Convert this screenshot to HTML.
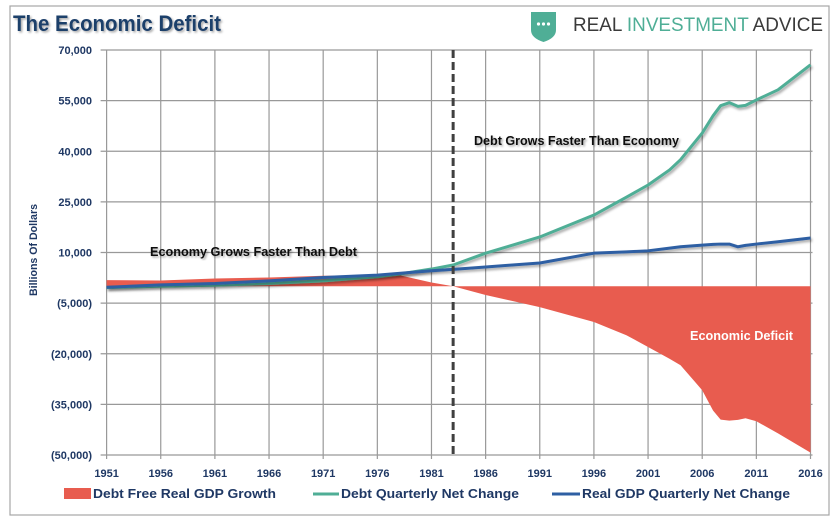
<!DOCTYPE html>
<html><head><meta charset="utf-8"><style>
html,body{margin:0;padding:0;background:#fff;}
svg{display:block;font-family:"Liberation Sans",sans-serif;}
</style></head><body>
<svg id="chart" width="836" height="522" viewBox="0 0 836 522">
<defs>
<filter id="sh" x="-5%" y="-5%" width="110%" height="120%"><feDropShadow dx="1.5" dy="2" stdDeviation="1.2" flood-color="#000" flood-opacity="0.35"/></filter>
<filter id="tsh"><feDropShadow dx="1.5" dy="1.5" stdDeviation="1" flood-color="#000" flood-opacity="0.35"/></filter>
</defs>
<rect x="10" y="6" width="819" height="509" fill="#fff" stroke="#a6a6a6" stroke-width="1.2"/>
<text x="13" y="31" font-size="22" font-weight="bold" fill="#1f3f6b" filter="url(#tsh)" textLength="208" lengthAdjust="spacingAndGlyphs">The Economic Deficit</text>
<g>
<path d="M531 12 L556 12 L556 30 Q556 38 543.5 42 Q531 38 531 30 Z" fill="#4fae96"/>
<circle cx="538.5" cy="24" r="1.6" fill="#fff"/><circle cx="543.5" cy="24" r="1.6" fill="#fff"/><circle cx="548.5" cy="24" r="1.6" fill="#fff"/>
<text x="573" y="31" font-size="19" textLength="250" lengthAdjust="spacingAndGlyphs"><tspan fill="#3a3a3a">REAL </tspan><tspan fill="#4fae96">INVESTMENT </tspan><tspan fill="#3a3a3a">ADVICE</tspan></text>
</g>
<g id="grid"></g>
<g id="plot"></g>
<g id="axes"></g>
<text x="474" y="145" font-size="12.5" font-weight="bold" fill="#111" filter="url(#tsh)" textLength="205" lengthAdjust="spacingAndGlyphs">Debt Grows Faster Than Economy</text>
<text x="150" y="256" font-size="12.5" font-weight="bold" fill="#111" filter="url(#tsh)" textLength="207" lengthAdjust="spacingAndGlyphs">Economy Grows Faster Than Debt</text>
<text x="690" y="340" font-size="12.5" font-weight="bold" fill="#fff" textLength="103" lengthAdjust="spacingAndGlyphs">Economic Deficit</text>
<text transform="translate(37,250) rotate(-90)" text-anchor="middle" font-size="11" font-weight="bold" fill="#1f3864" textLength="92" lengthAdjust="spacingAndGlyphs">Billions Of Dollars</text>
<g>
<g><rect x="64" y="488" width="27" height="11" fill="#e85c4f"/><text x="93" y="498" font-size="13" font-weight="bold" fill="#1f3864" textLength="183" lengthAdjust="spacingAndGlyphs">Debt Free Real GDP Growth</text></g>
<g><line x1="313" y1="494" x2="339" y2="494" stroke="#4fae96" stroke-width="3"/><text x="341" y="498" font-size="13" font-weight="bold" fill="#1f3864" textLength="178" lengthAdjust="spacingAndGlyphs">Debt Quarterly Net Change</text></g>
<g><line x1="552" y1="494" x2="580" y2="494" stroke="#2e5fa3" stroke-width="3"/><text x="582" y="498" font-size="13" font-weight="bold" fill="#1f3864" textLength="208" lengthAdjust="spacingAndGlyphs">Real GDP Quarterly Net Change</text></g>
</g>
</svg>
<script>
const years=[1951,1956,1961,1966,1971,1976,1978,1981,1983,1986,1991,1996,1999,2001,2003,2004,2006,2007,2007.7,2008.5,2009.3,2010,2011,2013,2016];
const debtFreeGdp=[1800,1700,2300,2600,3100,3100,3300,1100,0,-2600,-6200,-10600,-14500,-18000,-21500,-23400,-30800,-36800,-39500,-39800,-39600,-39100,-40000,-43600,-49300];
const debtChange=[-400,0,300,800,1600,2800,3600,5100,6300,9800,14600,21100,26400,30000,34500,37500,45400,50500,53500,54400,53300,53600,55200,58200,65600];
const gdpChange=[-300,400,800,1600,2600,3300,3800,4600,5000,5700,6900,9800,10200,10500,11300,11700,12200,12400,12500,12500,11700,12100,12500,13200,14300];
const yTicks=[70000,55000,40000,25000,10000,-5000,-20000,-35000,-50000];
const yTickLabels=["70,000","55,000","40,000","25,000","10,000","(5,000)","(20,000)","(35,000)","(50,000)"];
const xTicks=[1951,1956,1961,1966,1971,1976,1981,1986,1991,1996,2001,2006,2011,2016];
const markerYear=1983;
const L=106.6,R=810.5,T=50,B=455;
const X=y=>L+(y-1951)/(2016-1951)*(R-L);
const Y=v=>T+(70000-v)/120000*(B-T);
const NS="http://www.w3.org/2000/svg";
function mk(tag,attrs,parent){const e=document.createElementNS(NS,tag);for(const k in attrs)e.setAttribute(k,attrs[k]);parent.appendChild(e);return e;}
const grid=document.getElementById('grid'),plot=document.getElementById('plot'),axes=document.getElementById('axes');
yTicks.forEach((t,i)=>{
  const l=mk('line',{x1:L-6,x2:R+2,y1:Y(t),y2:Y(t),stroke:'#999','stroke-width':1.2},grid);
  
  
  const tx=mk('text',{x:92,y:Y(t)+4,'text-anchor':'end','font-size':11,'font-weight':'bold',fill:'#1f3864'},axes);
  tx.textContent=yTickLabels[i];
  
  
});
xTicks.forEach(t=>{
  const l=mk('line',{x1:X(t),x2:X(t),y1:T,y2:B+4,stroke:'#999','stroke-width':1.2},grid);
  
  
  const tx=mk('text',{x:X(t),y:477,'text-anchor':'middle','font-size':11,'font-weight':'bold',fill:'#1f3864'},axes);
  tx.textContent=String(t);
  
  
});
let d='M'+X(years[0])+','+Y(0);
years.forEach((y,i)=>{d+=' L'+X(y)+','+Y(debtFreeGdp[i]);});
d+=' L'+X(years[years.length-1])+','+Y(0)+' Z';
const area=mk('path',{d:d,fill:'#e85c4f'},plot);


function line(vals,color,name){
  const p=years.map((y,i)=>X(y)+','+Y(vals[i])).join(' L');
  const e=mk('path',{d:'M'+p,fill:'none',stroke:color,'stroke-width':3,'stroke-linejoin':'round',filter:'url(#sh)'},plot);
  
  
}
line(debtChange,'#4fae96','debt-change-line');
line(gdpChange,'#2e5fa3','real-gdp-change-line');
const dl=mk('line',{x1:X(markerYear),x2:X(markerYear),y1:T,y2:B,stroke:'#404040','stroke-width':3,'stroke-dasharray':'8,4'},plot);


</script>
</body></html>
